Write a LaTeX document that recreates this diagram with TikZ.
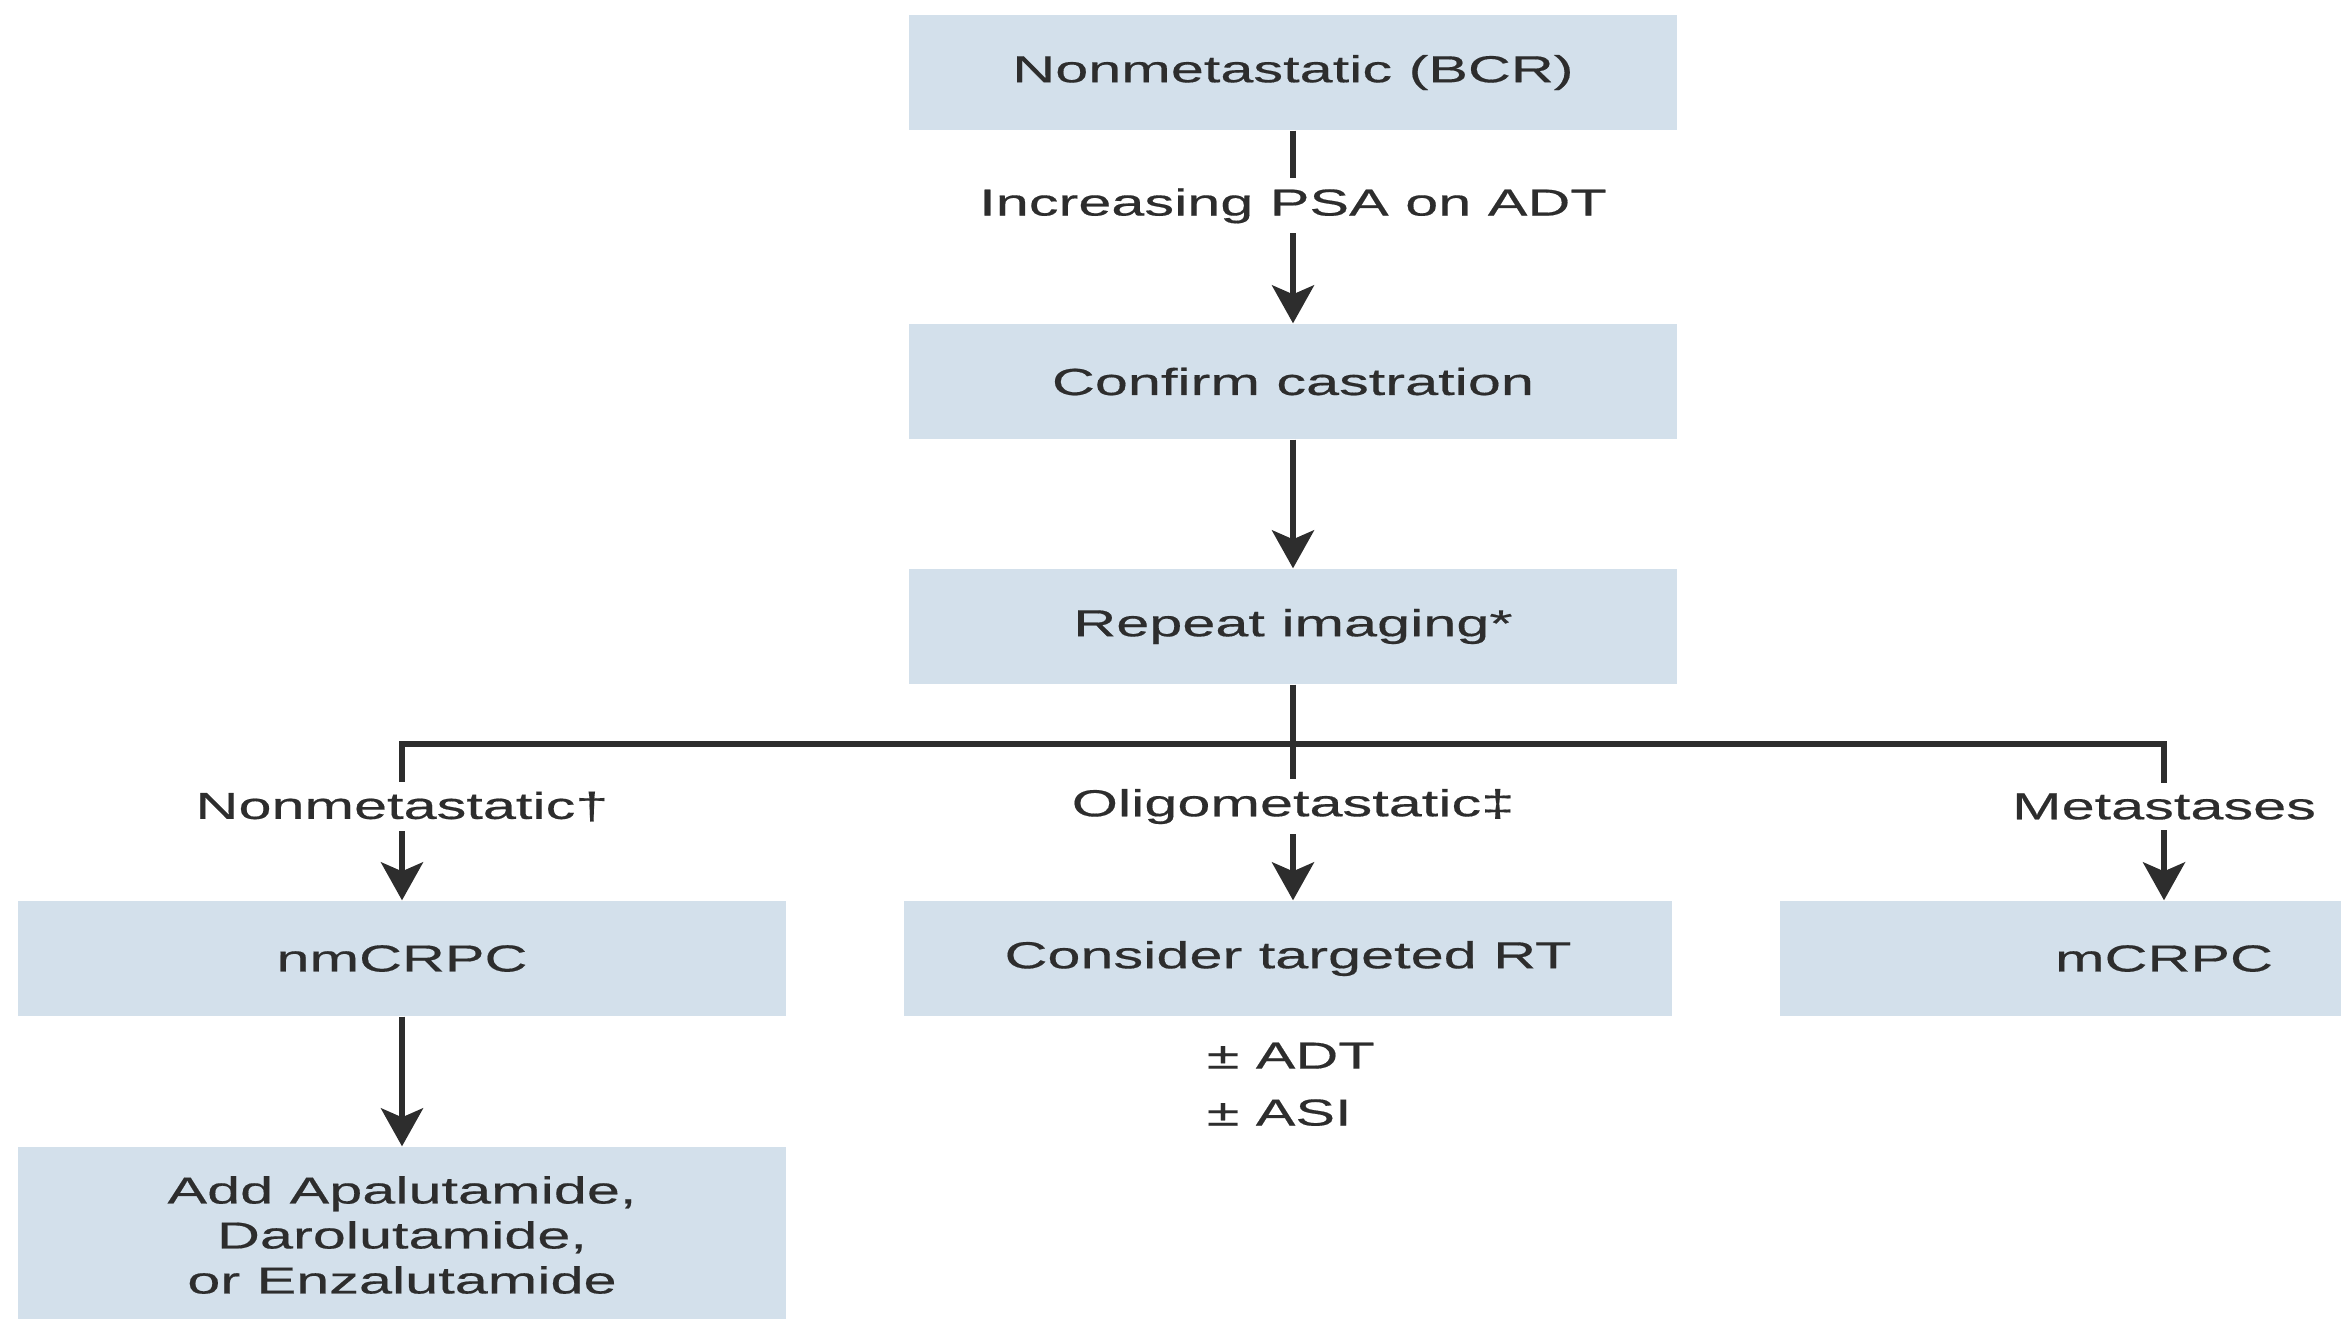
\documentclass[tikz,border=0pt]{standalone}
\usepackage{fontspec}
\setmainfont{Liberation Sans}[FakeStretch=1.58,FakeBold=0.4]
\usetikzlibrary{positioning,arrows.meta,calc}
\definecolor{boxblue}{RGB}{211,224,235}
\definecolor{ink}{RGB}{45,45,45}

\begin{document}
\begin{tikzpicture}[box/.style={fill=boxblue,minimum width=7.68cm,minimum height=1.15cm,inner sep=0pt,text=ink,font=\fontsize{10.7}{12.8}\selectfont,align=center},
  lbl/.style={fill=white,text=ink,font=\fontsize{10.7}{12.8}\selectfont,inner xsep=2pt,inner ysep=0.1cm},
  arr/.style={draw=ink,line width=1.6pt,-{Stealth[length=3.8mm,width=4.2mm,inset=0.9mm]}},
  wire/.style={draw=ink,line width=1.6pt}]
     \useasboundingbox (0,0) rectangle (23.41,-13.18);
     \clip (0,0) rectangle (23.41,-13.18);

     \node[box] (bcr) at (12.93,-0.725) {Nonmetastatic (BCR)};
     \node[box] (castration) at (12.93,-3.815) {Confirm castration};
     \node[box] (imaging) at (12.93,-6.265) {Repeat imaging*};

     \node[box] (nmcrpc) at (4.02,-9.585) {nmCRPC};
     \node[box] (targetrt) at (12.88,-9.585) {Consider targeted RT};
     \node[box] (mcrpc) at (21.64,-9.585) {mCRPC};
     \node[box,minimum height=1.76cm] (apalu) at (4.02,-12.35) {Add Apalutamide,\\Darolutamide,\\or Enzalutamide};
     \node[anchor=north west,inner sep=0pt,text=ink,align=left,font=\fontsize{10.7}{16.2}\selectfont] (addon) at (12.06,-10.42) {± ADT\\± ASI};

     \coordinate (fork) at (12.93,-7.44);

     \draw[arr] (bcr) -- node[lbl,pos=0.39] {Increasing PSA on ADT} (castration);
     \draw[arr] (castration) -- (imaging);
     \draw[wire] (imaging) -- (fork);
     \draw[wire,line cap=rect] (fork -| nmcrpc) -- (fork -| mcrpc);
     \draw[arr] (fork -| nmcrpc) -- node[lbl,pos=0.4] {Nonmetastatic†} (nmcrpc);
     \draw[arr] (fork) -- node[lbl,pos=0.4] {Oligometastatic‡} (fork |- targetrt.north);
     \draw[arr] (fork -| mcrpc) -- node[lbl,pos=0.4] {Metastases} (mcrpc);
     \draw[arr] (nmcrpc) -- (apalu);
\end{tikzpicture}
\end{document}
